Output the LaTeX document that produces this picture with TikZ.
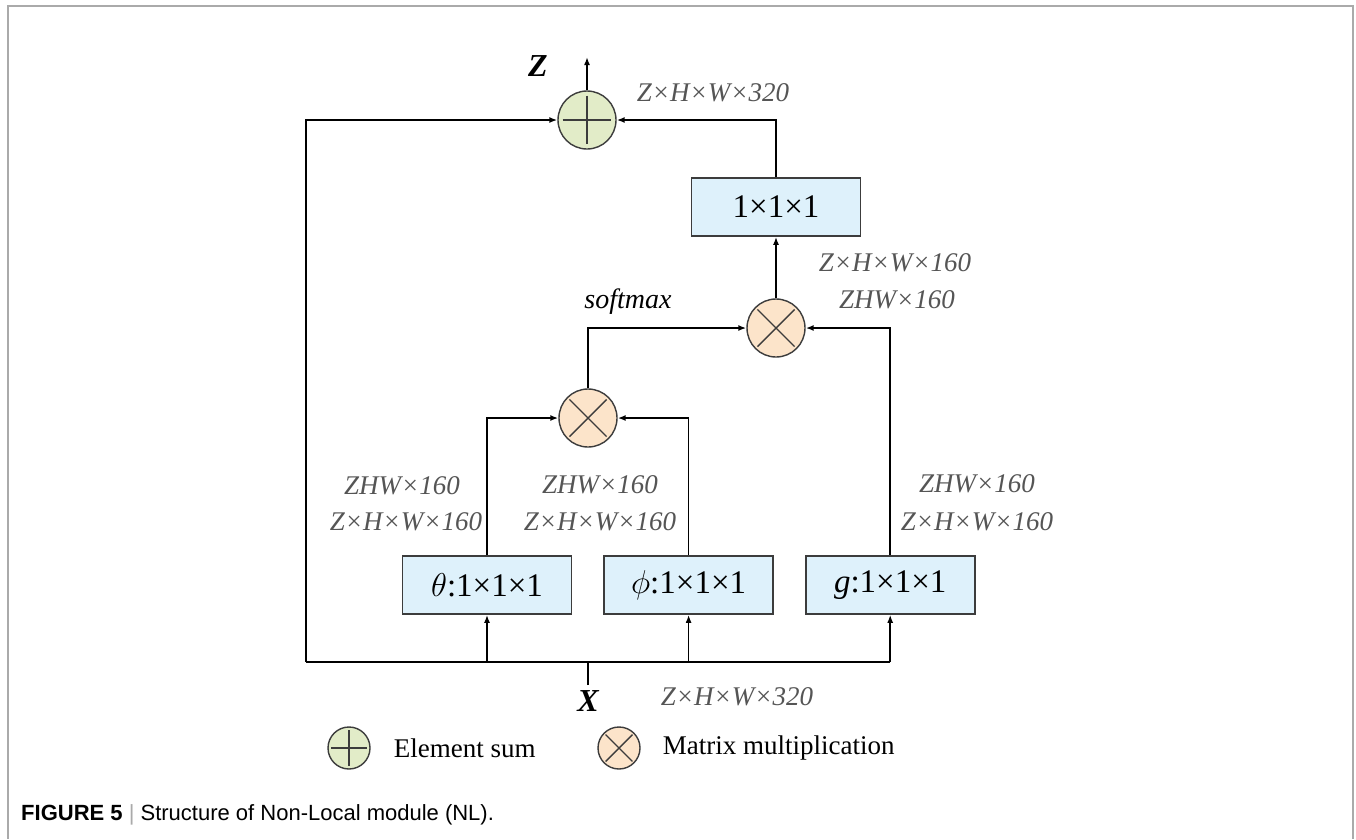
\RequirePackage{fix-cm}
\documentclass[tikz,border=0pt]{standalone}
\usepackage{fontspec}
\setmainfont{Liberation Serif}
\newfontfamily\capfont{Liberation Sans}
\usetikzlibrary{positioning,arrows.meta,calc}

\definecolor{sumfill}{RGB}{226,236,200}
\definecolor{mulfill}{RGB}{252,228,202}
\definecolor{boxfill}{RGB}{222,241,251}
\definecolor{edgegray}{RGB}{60,60,60}
\definecolor{dimgray}{RGB}{85,85,85}
\definecolor{framegray}{RGB}{170,170,170}

\begin{document}
\begin{tikzpicture}[
x=1pt, y=-1pt,
node distance=31pt and 31pt,
convbox/.style={draw=edgegray, line width=1.6pt, fill=boxfill, minimum width=169pt, minimum height=58pt, inner sep=0pt, font=\fontsize{33}{36}\selectfont},
sumop/.style={circle, draw=edgegray, line width=1.4pt, fill=sumfill, minimum size=#1, inner sep=0pt,
  path picture={\draw[edgegray, line width=1.4pt] ($(path picture bounding box.west)!0.08!(path picture bounding box.east)$) -- ($(path picture bounding box.east)!0.08!(path picture bounding box.west)$)
   ($(path picture bounding box.north)!0.08!(path picture bounding box.south)$) -- ($(path picture bounding box.south)!0.08!(path picture bounding box.north)$);}},
sumop/.default=58pt,
mulop/.style={circle, draw=edgegray, line width=1.4pt, fill=mulfill, minimum size=#1, inner sep=0pt,
  path picture={\draw[edgegray, line width=1.4pt] ($(path picture bounding box.center)+(-0.32*#1,-0.32*#1)$) -- ($(path picture bounding box.center)+(0.32*#1,0.32*#1)$)
   ($(path picture bounding box.center)+(-0.32*#1,0.32*#1)$) -- ($(path picture bounding box.center)+(0.32*#1,-0.32*#1)$);}},
mulop/.default=58pt,
dim/.style={text=dimgray, font=\fontsize{27}{30}\selectfont\itshape, inner sep=0pt},
legend/.style={font=\fontsize{27}{30}\selectfont, anchor=west, inner sep=0pt},
arr/.style={-{Latex[length=8pt,width=6pt]}, line width=1.6pt},
wire/.style={line width=1.6pt}
]
\useasboundingbox (0,0) rectangle (1356,839);
\draw[framegray, line width=2pt] (8,839) -- (8,6) -- (1353,6) -- (1353,839);

% operators and convolutions
\node[sumop] (sum) at (587,120) {};
\node[convbox] (out) at (776,207) {1×1×1};
\node[mulop] (mul2) at (776,328) {};
\node[mulop] (mul1) at (588,418) {};
\node[convbox] (theta) at (487,585) {$\theta$:1×1×1};
\node[convbox, right=of theta] (phi) {$\phi$:1×1×1};
\node[convbox, right=of phi] (g) {\textit{g}:1×1×1};

\coordinate (xin) at (588,685);
\coordinate (xbus) at (588,662);
\coordinate (zout) at (587,57);

% labels
\node[font=\fontsize{32}{34}\selectfont\bfseries\itshape] (zlab) at (538,66) {Z};
\node[font=\fontsize{32}{34}\selectfont\bfseries\itshape] (xlab) at (588,701) {X};
\node[dim] (dimsum) at (713,93) {Z×H×W×320};
\node[dim] (dimx) at (737,697) {Z×H×W×320};
\node[dim] (dimout) at (895,263) {Z×H×W×160};
\node[dim] (dimmul) at (897,300) {ZHW×160};
\node[font=\fontsize{28}{30}\selectfont\itshape, inner sep=0pt] (smax) at (628,302) {softmax};
\node[dim] (dimthA) at (402,486) {ZHW×160};
\node[dim] (dimthB) at (406,522) {Z×H×W×160};
\node[dim] (dimphA) at (600,485) {ZHW×160};
\node[dim] (dimphB) at (600,522) {Z×H×W×160};
\node[dim] (dimgA) at (977,484) {ZHW×160};
\node[dim] (dimgB) at (977,522) {Z×H×W×160};

% input bus
\draw[wire] (xin) -- (xbus);
\draw[wire] (g.south |- xbus) -- (306,662) coordinate (bl);
\draw[arr] (bl) |- (sum.west);
\draw[arr] (theta.south |- xbus) -- (theta.south);
\draw[arr] (phi.south |- xbus) -- (phi.south);
\draw[arr] (g.south |- xbus) -- (g.south);

% attention paths
\draw[arr] (theta.north) |- (mul1.west);
\draw[arr] (phi.north) |- (mul1.east);
\draw[arr] (mul1.north) |- (mul2.west);
\draw[arr] (g.north) |- (mul2.east);
\draw[arr] (mul2.north) -- (out.south);
\draw[arr] (out.north) |- (sum.east);
\draw[arr] (sum.north) -- (zout);

% legend
\node[sumop=42pt] (lgsum) at (349,748) {};
\node[legend, right=23pt of lgsum] (lgsumt) {Element sum};
\node[mulop=42pt] (lgmul) at (619,748) {};
\node[legend, right=22pt of lgmul] (lgmult) {Matrix multiplication};

% caption
\node[anchor=west, inner sep=0pt, font=\fontsize{22}{24}\selectfont\capfont] (cap) at (21,815)
  {\textbf{FIGURE 5} {\color{framegray}|} Structure of Non-Local module (NL).};
\end{tikzpicture}
\end{document}
